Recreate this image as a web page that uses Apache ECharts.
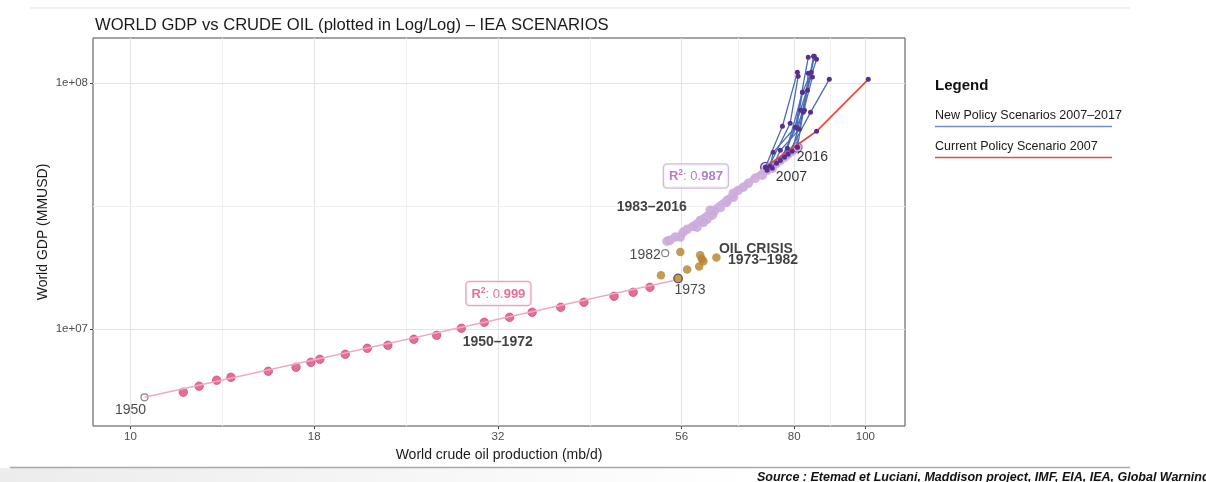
<!DOCTYPE html>
<html>
<head>
<meta charset="utf-8">
<script src="https://cdn.jsdelivr.net/npm/echarts@6.0.0/dist/echarts.min.js"></script>
<style>
  html, body { margin: 0; padding: 0; background: #fff; }
  #main { width: 1206px; height: 482px; }
</style>
</head>
<body>
<div id="main"></div>
<script>
// values: oil in mb/d, GDP in MMUSD
// 1950-1972
var oil5072 = [10.45, 11.8, 12.4, 13.1, 13.7, 15.4, 16.8, 17.6, 18.1, 19.6, 21.0, 22.4,
               24.3, 26.1, 28.2, 30.3, 32.8, 35.2, 38.5, 41.4, 45.5, 48.3, 50.9];
var gdp5072 = [5.29e6, 5.55e6, 5.87e6, 6.21e6, 6.38e6, 6.75e6, 7.01e6, 7.34e6, 7.55e6, 7.91e6, 8.37e6, 8.61e6,
               9.11e6, 9.45e6, 1.010e7, 1.068e7, 1.119e7, 1.173e7, 1.229e7, 1.288e7, 1.362e7, 1.414e7, 1.482e7];
// 1973-1982 (oil crisis)
var oil7382 = [55.6, 57.2, 52.7, 59.4, 60.2, 59.6, 62.7, 59.9, 56.0, 53.4];
var gdp7382 = [1.61e7, 1.75e7, 1.66e7, 1.80e7, 1.89e7, 2.00e7, 1.96e7, 1.93e7, 2.06e7, 2.04e7];
// 1983-2016
var oil8316 = [53.7, 54.2, 55.1, 56.0, 56.5, 57.2, 58.3, 59.0, 59.6, 60.2, 60.9, 61.5,
               61.9, 62.3, 63.5, 64.7, 64.9, 66.1, 66.1, 67.1, 68.2, 69.3, 70.8, 72.4,
               73.1, 73.5, 74.2, 74.7, 75.7, 76.6, 77.6, 78.5, 79.5, 80.8];
var gdp8316 = [2.28e7, 2.30e7, 2.37e7, 2.37e7, 2.48e7, 2.55e7, 2.62e7, 2.60e7, 2.77e7, 2.72e7, 2.80e7, 3.05e7,
               2.91e7, 3.02e7, 3.13e7, 3.28e7, 3.35e7, 3.44e7, 3.57e7, 3.67e7, 3.78e7, 3.92e7, 4.11e7, 4.23e7,
               4.56e7, 4.43e7, 4.60e7, 4.51e7, 4.73e7, 4.86e7, 5.00e7, 5.15e7, 5.29e7, 5.49e7];
// fit lines (end points)
var fitOil5072 = [10.45, 54.8];
var fitGdp5072 = [5.29e6, 1.58e7];
var fitOil8316 = [53.7, 73.5];
var fitGdp8316 = [2.24e7, 4.56e7];

// IEA New Policy Scenarios 2007-2017
var npsYears = [2007, 2008, 2009, 2010, 2011, 2012, 2013, 2014, 2015, 2016, 2017];
var npsOil = [
  [73.1, 77.1, 80.8],
  [73.5, 79.0, 81.0],
  [74.2, 74.9, 80.3, 83.6],
  [74.7, 76.6, 81.3, 85.0],
  [75.7, 78.3, 81.6, 85.8],
  [76.6, 82.6, 83.6],
  [77.6, 82.1, 84.4],
  [78.5, 84.2, 89.3],
  [79.5, 83.4, 85.2],
  [80.8, 82.3, 84.7],
  [80.8, 80.6, 82.1]
];
var npsGdp = [
  [4.56e7, 6.69e7, 1.108e8],
  [4.43e7, 6.88e7, 1.068e8],
  [4.60e7, 5.24e7, 6.63e7, 1.275e8],
  [4.51e7, 5.34e7, 6.50e7, 1.287e8],
  [4.73e7, 5.44e7, 7.77e7, 1.252e8],
  [4.86e7, 7.77e7, 1.098e8],
  [5.00e7, 9.19e7, 1.108e8],
  [5.15e7, 7.62e7, 1.038e8],
  [5.29e7, 9.37e7, 1.287e8],
  [5.49e7, 7.62e7, 1.06e8],
  [5.49e7, 6.60e7, 9.2e7]
];
// IEA Current Policy Scenario 2007
var cpsOil = [73.1, 85.8, 100.9];
var cpsGdp = [4.56e7, 6.38e7, 1.038e8];

// axes
var xMin = 8.893, xMax = 113.2;
var yMin = 4.045e6, yMax = 1.528e8;
var xTicks = [10, 17.78, 31.62, 56.23, 80, 100];
var xMinor = [13.34, 23.71, 42.17, 67.08, 89.44];
var yTicks = [1e7, 1e8];
var yMinor = [3.162e7];

// text notes [oil, gdp, text]
var boldNotes = [[31.6, 8.88e6, '1950–1972'], [51.2, 3.14e7, '1983–2016']];
var leftNotes = [[63.2, 2.12e7, 'OIL CRISIS'], [65.0, 1.91e7, '1973–1982']];
var r2Notes = [[31.67, 1.398e7, '999', '#dd4a82', '#e68aac'], [58.8, 4.20e7, '987', '#a35cbc', '#c9a6dc']];

var FONT = '"Liberation Sans", Arial, Helvetica, sans-serif';
var DOT = '#56308f';

function pairs(xs, ys) {
  return xs.map(function (x, i) { return [x, ys[i]]; });
}
function yearLabel(text, dx, dy) {
  return { show: true, formatter: text, position: 'inside', offset: [dx, dy],
           fontSize: 14, color: '#1a1a1a', fontFamily: FONT };
}

var myChart = echarts.init(document.getElementById('main'), null, { renderer: 'canvas' });

// points with special styles
var d5072 = pairs(oil5072, gdp5072);
d5072[0] = { value: d5072[0], symbolSize: 7,
  itemStyle: { color: '#fff', borderColor: '#666', borderWidth: 1.2 },
  label: yearLabel('1950', -14, 13) };

var d7382 = pairs(oil7382, gdp7382);
d7382[0] = { value: d7382[0], itemStyle: { borderColor: '#3a3a3a', borderWidth: 1.3 },
  label: yearLabel('1973', 12, 12) };
d7382[9] = { value: d7382[9], symbolSize: 7,
  itemStyle: { color: '#fff', borderColor: '#666', borderWidth: 1.2 },
  label: yearLabel('1982', -20, 2) };

var d8316 = pairs(oil8316, gdp8316);
d8316[24] = { value: d8316[24], itemStyle: { color: 'rgba(200,163,218,0.5)', borderColor: '#4b2a80', borderWidth: 1.3 },
  label: yearLabel('2007', 26, 10) };
d8316[33] = { value: d8316[33], itemStyle: { borderColor: '#6a4a96', borderWidth: 1 },
  label: yearLabel('2016', 15, 10) };

// grid lines as markLines
var gridLines = [];
xTicks.forEach(function (v) { gridLines.push({ xAxis: v, lineStyle: { color: '#e4e4e4', width: 1.2 } }); });
xMinor.forEach(function (v) { gridLines.push({ xAxis: v, lineStyle: { color: '#efefef', width: 1 } }); });
yTicks.forEach(function (v) { gridLines.push({ yAxis: v, lineStyle: { color: '#e4e4e4', width: 1.2 } }); });
yMinor.forEach(function (v) { gridLines.push({ yAxis: v, lineStyle: { color: '#efefef', width: 1 } }); });

var series = [];
series.push({
  type: 'line', data: pairs(fitOil5072, fitGdp5072), symbol: 'none',
  lineStyle: { color: '#f2a9c0', width: 1.6 },
  markLine: { z: 1, silent: true, symbol: 'none', label: { show: false }, animation: false,
              lineStyle: { type: 'solid' }, data: gridLines }
});
series.push({
  type: 'scatter', data: d5072, symbolSize: 8.5,
  itemStyle: { color: '#dd4a82', borderColor: '#c63a70', borderWidth: 0.8 }
});
series.push({
  type: 'line', data: pairs(fitOil8316, fitGdp8316), symbol: 'none',
  lineStyle: { color: '#cdaede', width: 3.5 }
});
series.push({
  type: 'scatter', data: d8316, symbolSize: 9.5,
  itemStyle: { color: '#cbaadc', opacity: 0.9 }
});
series.push({
  type: 'scatter', data: d7382, symbolSize: 8.5,
  itemStyle: { color: '#b5822c' }
});
npsYears.forEach(function (yr, i) {
  series.push({
    type: 'line', name: 'NPS ' + yr, data: pairs(npsOil[i], npsGdp[i]),
    symbol: 'circle', symbolSize: 5, showSymbol: true, showAllSymbol: true,
    lineStyle: { color: '#4a6db5', width: 1.3 },
    itemStyle: { color: DOT }
  });
});
series.push({
  type: 'line', name: 'CPS 2007', data: pairs(cpsOil, cpsGdp),
  symbol: 'circle', symbolSize: 5, showSymbol: true,
  lineStyle: { color: '#e8473d', width: 1.7 },
  itemStyle: { color: DOT }
});

// annotations
var noteData = [];
boldNotes.forEach(function (n) {
  noteData.push({ value: [n[0], n[1]], label: { show: true, position: 'inside', formatter: n[2],
    fontSize: 14, fontWeight: 'bold', color: '#111', fontFamily: FONT } });
});
leftNotes.forEach(function (n) {
  noteData.push({ value: [n[0], n[1]], label: { show: true, position: 'inside', align: 'left', formatter: n[2],
    fontSize: 14, fontWeight: 'bold', color: '#111', fontFamily: FONT } });
});
r2Notes.forEach(function (n) {
  noteData.push({ value: [n[0], n[1]], label: {
    show: true, position: 'inside', formatter: '{b|R}{s|2}{n|: 0.}{b|' + n[2] + '}',
    backgroundColor: '#fff', borderColor: n[4], borderWidth: 1.3, borderRadius: 3, padding: [4, 5, 3, 5],
    rich: {
      b: { fontSize: 13, fontWeight: 'bold', color: n[3], fontFamily: FONT },
      n: { fontSize: 13, color: n[3], fontFamily: FONT },
      s: { fontSize: 8.5, fontWeight: 'bold', color: n[3], fontFamily: FONT, verticalAlign: 'top', padding: [0, 0, 7, 0] }
    } } });
});
series.push({ type: 'scatter', data: noteData, symbolSize: 0, silent: true, z: 6 });

var option = {
  animation: false,
  grid: { left: 93, right: 301, top: 38, bottom: 56, show: true, borderColor: '#4a4a4a', borderWidth: 1,
          backgroundColor: '#fff', containLabel: false, outerBoundsMode: 'none' },
  xAxis: {
    type: 'log', logBase: 10, min: xMin, max: xMax,
    name: 'World crude oil production (mb/d)', nameLocation: 'middle', nameGap: 21,
    nameTextStyle: { fontSize: 14, color: '#1a1a1a', fontFamily: FONT },
    axisLine: { show: false },
    axisTick: { show: true, length: 3, customValues: xTicks, lineStyle: { color: '#444' } },
    axisLabel: { customValues: xTicks, margin: 5, fontSize: 11.5, color: '#4d4d4d', fontFamily: FONT,
                 formatter: function (v) { return String(Math.round(v)); } },
    splitLine: { show: false }, minorSplitLine: { show: false }
  },
  yAxis: {
    type: 'log', logBase: 10, min: yMin, max: yMax,
    name: 'World GDP (MMUSD)', nameLocation: 'middle', nameGap: 43, nameMoveOverlap: false,
    nameTextStyle: { fontSize: 14, color: '#1a1a1a', fontFamily: FONT },
    axisLine: { show: false },
    axisTick: { show: true, length: 3, customValues: yTicks, lineStyle: { color: '#444' } },
    axisLabel: { customValues: yTicks, margin: 5, fontSize: 11.5, color: '#4d4d4d', fontFamily: FONT,
                 formatter: function (v) {
                   var e = Math.round(Math.log(v) / Math.LN10);
                   return '1e+' + (e < 10 ? '0' : '') + e;
                 } },
    splitLine: { show: false }, minorSplitLine: { show: false }
  },
  graphic: [
    { type: 'line', shape: { x1: 30, y1: 8, x2: 1130, y2: 8 }, style: { stroke: '#e2e2e2', lineWidth: 1 } },
    { type: 'text', x: 95, y: 25, style: { text: 'WORLD GDP vs CRUDE OIL (plotted in Log/Log) – IEA SCENARIOS',
      font: '16.6px ' + FONT, fill: '#1a1a1a', verticalAlign: 'middle' } },
    { type: 'text', x: 935, y: 86, style: { text: 'Legend', font: 'bold 15px ' + FONT, fill: '#111', verticalAlign: 'middle' } },
    { type: 'text', x: 935, y: 116, style: { text: 'New Policy Scenarios 2007–2017', font: '12.5px ' + FONT, fill: '#1a1a1a', verticalAlign: 'middle' } },
    { type: 'line', shape: { x1: 935, y1: 126.5, x2: 1112, y2: 126.5 }, style: { stroke: '#6f8fca', lineWidth: 1.5 } },
    { type: 'text', x: 935, y: 147, style: { text: 'Current Policy Scenario 2007', font: '12.5px ' + FONT, fill: '#1a1a1a', verticalAlign: 'middle' } },
    { type: 'line', shape: { x1: 935, y1: 157.5, x2: 1112, y2: 157.5 }, style: { stroke: '#e24b3f', lineWidth: 1.5 } },
    { type: 'rect', shape: { x: 0, y: 468, width: 760, height: 14 },
      style: { fill: new echarts.graphic.LinearGradient(0, 0, 1, 0, [
        { offset: 0, color: '#ececec' }, { offset: 1, color: '#ffffff' }]) } },
    { type: 'line', shape: { x1: 10, y1: 467.5, x2: 1130, y2: 467.5 }, style: { stroke: '#a8a8a8', lineWidth: 1.5 } },
    { type: 'text', x: 757, y: 471, style: { text: 'Source : Etemad et Luciani, Maddison project, IMF, EIA, IEA, Global Warning',
      font: 'italic bold 12.5px ' + FONT, fill: '#111', verticalAlign: 'top' } }
  ],
  series: series
};

myChart.setOption(option);
</script>
</body>
</html>
